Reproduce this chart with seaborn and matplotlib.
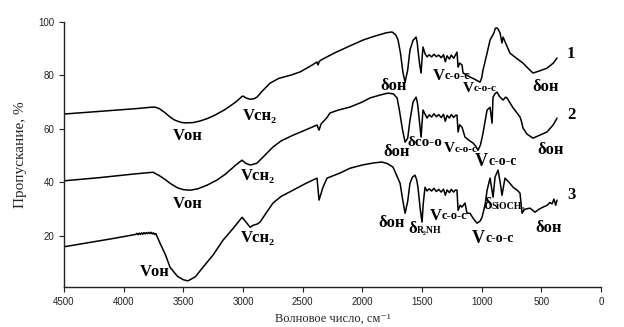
import numpy as np
import pandas as pd
import matplotlib
matplotlib.use("Agg")
import matplotlib.pyplot as plt
import seaborn as sns

# wavenumber (cm-1) / transmittance (%)
wn1 = [4500, 4200, 3900, 3780, 3738, 3700, 3654, 3600, 3570, 3520, 3486, 3420, 3360, 3300, 3235,
       3150, 3060, 3010, 3000, 2975, 2941, 2910, 2883, 2840, 2774, 2700, 2600, 2522, 2450, 2380,
       2372, 2360, 2340, 2237, 2100, 1994, 1900, 1800, 1751, 1720, 1701, 1680, 1660, 1642, 1620,
       1601, 1575, 1550, 1540, 1534, 1520, 1508, 1500, 1492, 1475, 1458, 1440, 1420, 1400, 1380,
       1360, 1340, 1320, 1305, 1290, 1270, 1255, 1235, 1220, 1207,
       1198, 1185, 1165, 1156, 1130, 1098, 1060, 1040, 1014, 1000, 989, 955, 930, 900, 885,
       872, 860, 846, 830, 821, 800, 763, 700, 654, 610, 570, 520, 453, 400, 369]
t1 = [65.5, 66.5, 67.5, 68.0, 68.1, 67.5, 66.0, 64.0, 63.2, 62.4, 62.2, 62.3, 62.9, 63.8, 65.1,
      67.2, 70.0, 72.0, 72.2, 71.5, 71.0, 71.2, 71.8, 74.0, 77.0, 78.8, 80.0, 81.2, 83.0, 84.9,
      83.8, 85.2, 85.8, 88.2, 91.0, 93.1, 94.5, 95.8, 96.1, 95.0, 93.1, 88.0, 81.0, 77.4, 82.0,
      89.4, 93.0, 94.2, 92.0, 89.4, 84.0, 80.8, 86.0, 90.5, 88.0, 86.8, 87.6, 86.8, 87.8, 86.9,
      87.5, 86.5, 87.6, 85.0, 87.2, 86.0, 87.5, 86.3, 87.5, 88.6,
      83.0, 84.5, 83.8, 80.8, 80.2, 79.3, 78.5, 78.0, 77.4, 79.0, 81.9, 88.2, 93.1, 95.5, 97.5,
      97.6, 97.0, 95.7, 92.0, 94.2, 92.0, 88.2, 86.0, 84.5, 82.5, 80.8, 81.5, 82.6, 84.5, 86.4]

wn2 = [4500, 4200, 3900, 3800, 3755, 3700, 3650, 3612, 3550, 3500, 3444, 3380, 3300, 3218, 3150,
       3060, 3008, 2980, 2941, 2910, 2883, 2820, 2749, 2680, 2581, 2480, 2380, 2363, 2346, 2300,
       2271, 2200, 2103, 2000, 1936, 1850, 1785, 1740, 1709, 1690, 1665, 1642, 1620, 1601, 1575,
       1550, 1540, 1534, 1520, 1508, 1500, 1492, 1475, 1458, 1440, 1420, 1400, 1380, 1360, 1340,
       1320, 1305, 1290, 1270, 1255, 1235, 1220, 1207, 1198, 1185,
       1165, 1140, 1100, 1073, 1050, 1031, 1010, 989, 955, 930, 913, 905, 890, 872, 850,
       821, 800, 788, 740, 679, 665, 654, 620, 570, 520, 453, 400, 369]
t2 = [40.6, 41.8, 43.2, 43.6, 43.8, 42.5, 41.0, 39.7, 38.0, 37.3, 37.1, 37.6, 39.0, 40.9, 43.0,
      46.5, 48.3, 47.2, 46.5, 46.8, 47.2, 50.0, 53.2, 55.5, 57.6, 59.5, 61.4, 59.5, 61.8, 64.0,
      65.9, 67.0, 68.1, 70.0, 71.5, 72.6, 73.3, 73.0, 71.5, 67.0, 60.0, 55.0, 56.5, 63.2, 70.0,
      71.8, 70.0, 68.1, 62.0, 56.9, 62.0, 67.0, 65.5, 64.0, 65.2, 64.4, 65.6, 64.5, 65.3, 64.2,
      65.4, 62.8, 65.0, 64.0, 65.3, 64.2, 65.0, 65.1, 58.8, 61.5,
      60.6, 56.9, 55.5, 54.7, 53.5, 52.0, 54.0, 58.4, 67.0, 68.0, 62.1, 71.8, 73.0, 73.7, 72.0,
      70.7, 71.8, 71.5, 68.0, 64.4, 62.5, 60.3, 58.0, 56.5, 57.5, 58.8, 61.5, 64.0]

wn3 = [4500, 4300, 4100, 3950, 3900, 3890, 3880, 3870, 3860, 3850, 3840, 3830, 3820, 3810, 3800,
       3790, 3780, 3770, 3760, 3750, 3740, 3730, 3720, 3696,
       3650, 3612, 3550, 3500, 3461, 3400, 3335, 3250, 3167, 3080, 3008, 2980, 2941, 2916, 2880,
       2858, 2800, 2749, 2680, 2581, 2480, 2380, 2363, 2330, 2296, 2187, 2103, 2000, 1900, 1835,
       1790, 1743, 1684, 1660, 1642, 1620, 1601, 1580, 1559, 1545, 1534, 1515, 1500, 1490, 1475,
       1458, 1440, 1420, 1400, 1380, 1360, 1340, 1320, 1305, 1290, 1270, 1255, 1235, 1220,
       1207, 1198, 1180, 1165, 1140, 1123, 1098, 1070, 1039, 1015, 997,
       970, 955, 930, 905, 888, 863, 845, 830, 805, 770, 737, 700, 679, 662, 640,
       595, 553, 520, 486, 450, 430, 410, 395, 380, 369]
t3 = [16.0, 17.5, 19.0, 20.2, 20.6, 21.0, 20.5, 21.1, 20.6, 21.2, 20.7, 21.3, 20.8, 21.3, 20.9,
      21.4, 20.9, 21.4, 20.8, 21.2, 20.6, 20.9, 19.8, 17.4,
      13.0, 8.4, 5.0, 3.7, 3.3, 4.8, 8.4, 13.0, 18.5, 23.0, 27.0, 25.5, 23.3, 24.0, 24.5,
      25.2, 29.0, 32.3, 34.8, 37.1, 39.5, 41.6, 33.4, 38.2, 41.6, 43.5, 45.3, 46.5, 47.3, 47.6,
      47.0, 45.7, 39.7, 33.0, 28.5, 33.0, 39.7, 42.0, 42.7, 41.0, 38.2, 30.0, 25.2, 32.0, 38.2,
      36.8, 37.6, 36.8, 37.8, 36.6, 37.4, 36.4, 37.5, 35.2, 37.2, 36.2, 37.4, 36.4, 37.2,
      37.1, 29.6, 31.5, 30.8, 32.3, 28.5, 28.5, 26.5, 24.8, 25.5, 27.0,
      32.0, 37.1, 41.6, 34.5, 42.0, 44.6, 40.0, 35.2, 41.6, 40.0, 38.2, 37.0, 36.0, 28.5, 30.0,
      30.4, 28.9, 30.0, 30.8, 31.5, 32.5, 32.0, 33.8, 31.5, 33.4]

x_ticks = [4500, 4000, 3500, 3000, 2500, 2000, 1500, 1000, 500, 0]
y_ticks = [20, 40, 60, 80, 100]

sns.set_style("ticks")
plt.rcParams["font.family"] = ["Liberation Sans", "DejaVu Sans"]
serif = ["Liberation Serif", "DejaVu Serif"]

fig = plt.figure(figsize=(6.24, 3.27), dpi=100)
ax = fig.add_axes([0.1026, 0.1223, 0.8606, 0.8119])

for wn, t in [(wn1, t1), (wn2, t2), (wn3, t3)]:
    df = pd.DataFrame({"wn": wn, "T": t})
    sns.lineplot(data=df, x="wn", y="T", ax=ax, color="black", lw=1.1,
                 sort=False, estimator=None)

ax.set_xlim(4500, 0)
ax.set_ylim(1, 100)
ax.set_xticks(x_ticks)
ax.set_yticks(y_ticks)
ax.tick_params(labelsize=7, length=3.5, width=0.8, colors="#222222")
sns.despine(ax=ax)
for s in ["left", "bottom"]:
    ax.spines[s].set_linewidth(1.0)
    ax.spines[s].set_color("#222222")

ax.set_xlabel("Волновое число, см⁻¹", family=serif, fontsize=9, labelpad=4)
ax.set_ylabel("Пропускание, %", family=serif, fontsize=11, labelpad=8)

bold = dict(family=serif, fontweight="bold", color="black")


def tag(x, y, text, size=12):
    ax.text(x, y, text, fontsize=size, ha="center", va="center", **bold)


def tag_sub(x, y, main, sub, size=12, subsize=9):
    m = ax.text(x, y, main, fontsize=size, ha="left", va="center", **bold)
    ax.annotate(sub, xy=(1, 0.12), xycoords=m, ha="left", va="bottom",
                fontsize=subsize, **bold)


# curve 1
tag(3461, 57.3, "Vон")
tag(2858, 64.7, "Vсн₂")
tag(1735, 75.9, "δон")
tag_sub(1408, 79.7, "V", "c-o-c")
tag_sub(1156, 75.0, "V", "c-o-c", size=11, subsize=8)
tag(461, 75.6, "δон")
tag(251, 87.9, "1")
# curve 2
tag(3461, 31.9, "Vон")
tag(2874, 42.4, "Vсн₂")
tag(1710, 51.3, "δон")
ax.text(1625, 55.0, "δco-o", fontsize=11, ha="left", va="center", **bold)
tag_sub(1315, 52.6, "V", "c-o-c", size=11, subsize=8)
tag_sub(1056, 47.8, "V", "c-o-c", size=13, subsize=10)
tag(419, 52.0, "δон")
tag(251, 65.1, "2")
# curve 3
tag(3737, 6.5, "Vон")
tag(2874, 19.2, "Vсн₂")
tag(1751, 24.8, "δон")
tag_sub(1617, 22.6, "δ", "R₂NH", size=12, subsize=7)
tag_sub(1433, 27.4, "V", "c-o-c")
tag_sub(1081, 19.0, "V", "c-o-c", size=13, subsize=10)
tag_sub(989, 31.5, "δ", "SiOCH₃", size=12, subsize=7)
tag(436, 23.0, "δон")
tag(251, 35.3, "3")

fig.savefig("out.png", dpi=100)
